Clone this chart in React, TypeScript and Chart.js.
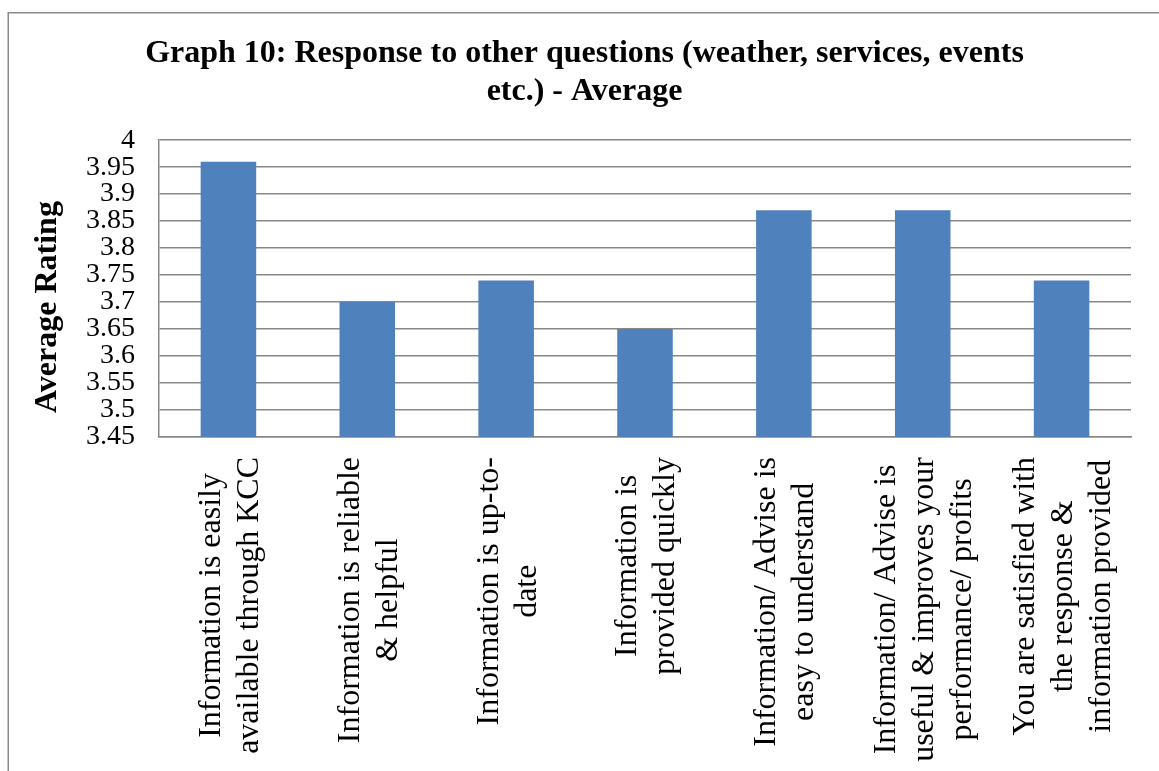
import React, { useEffect, useRef } from "react";
import { Chart, registerables } from "chart.js";

Chart.register(...registerables);

const titleLines = [
  "Graph 10: Response to other questions (weather, services, events",
  "etc.) - Average",
];
const yAxisTitle = "Average Rating";
const categories: string[][] = [
  ["Information is easily", "available through KCC"],
  ["Information is reliable", "& helpful"],
  ["Information is up-to-", "date"],
  ["Information is", "provided quickly"],
  ["Information/ Advise is", "easy to understand"],
  ["Information/ Advise is", "useful & improves your", "performance/ profits"],
  ["You are satisfied with", "the response &", "information provided"],
];
const averageRatings = [3.96, 3.7, 3.74, 3.65, 3.87, 3.87, 3.74];
const yMin = 3.45;
const yMax = 4;
const yStep = 0.05;

const SERIF = '"Liberation Serif", "Times New Roman", serif';
const GRID = "#878787";
const BAR = "#4F81BD";

const framePlugin = {
  id: "frame",
  beforeDraw(chart: any) {
    const { ctx, width, height } = chart;
    ctx.save();
    ctx.fillStyle = "#ffffff";
    ctx.fillRect(0, 0, width, height);
    ctx.strokeStyle = "#8a8a8a";
    ctx.lineWidth = 1.5;
    ctx.strokeRect(8.25, 12.75, width + 20, height + 20);
    ctx.restore();
  },
};

const labelsPlugin = {
  id: "rotatedLabels",
  afterDraw(chart: any) {
    const { ctx, chartArea } = chart;
    const xScale = chart.scales.x;
    const fontSize = 32;
    const lineH = 38;
    ctx.save();
    ctx.fillStyle = "#000000";
    ctx.font = `${fontSize}px ${SERIF}`;
    ctx.textAlign = "center";
    ctx.textBaseline = "middle";
    categories.forEach((lines, i) => {
      const cx = xScale.getPixelForValue(i) + 2;
      const top = chartArea.bottom + 20;
      const maxW = Math.max(...lines.map((l) => ctx.measureText(l).width));
      ctx.save();
      ctx.translate(cx, top);
      ctx.rotate(-Math.PI / 2);
      lines.forEach((l, j) => {
        const y = (j - (lines.length - 1) / 2) * lineH;
        ctx.fillText(l, -maxW / 2, y);
      });
      ctx.restore();
    });
    // y axis title
    ctx.font = `bold 32px ${SERIF}`;
    ctx.save();
    ctx.translate(48, 307);
    ctx.rotate(-Math.PI / 2);
    ctx.fillText(yAxisTitle, 0, 0);
    ctx.restore();
    ctx.restore();
  },
};

export default function App() {
  const ref = useRef<HTMLCanvasElement | null>(null);
  useEffect(() => {
    if (!ref.current) return;
    const chart = new Chart(ref.current, {
      type: "bar",
      data: {
        labels: categories.map((c) => c.join(" ")),
        datasets: [
          {
            data: averageRatings,
            backgroundColor: BAR,
            borderWidth: 0,
            barPercentage: 0.4,
            categoryPercentage: 1,
          },
        ],
      },
      options: {
        animation: false,
        responsive: false,
        devicePixelRatio: 1,
        layout: { padding: { left: 38, right: 28, top: 0, bottom: 0 } },
        plugins: {
          legend: { display: false },
          tooltip: { enabled: false },
          title: {
            display: true,
            text: titleLines,
            color: "#000000",
            font: { family: SERIF, size: 32, weight: "bold", lineHeight: 1.19 },
            padding: { top: 35, bottom: 29 },
          },
        },
        scales: {
          x: {
            type: "category",
            grid: { display: false },
            border: { display: true, color: GRID, width: 1.5 },
            ticks: { display: false },
            afterFit: (scale: any) => {
              scale.height = 334;
            },
          },
          y: {
            min: yMin,
            max: yMax,
            grid: { color: GRID, lineWidth: 1.5, drawTicks: false },
            border: { display: true, color: GRID, width: 1.5 },
            ticks: {
              stepSize: yStep,
              autoSkip: false,
              maxTicksLimit: 30,
              padding: 24,
              color: "#000000",
              font: { family: SERIF, size: 28, lineHeight: 0.9 },
              callback: (v: any) => String(Number(Number(v).toFixed(2))),
            },
            afterFit: (scale: any) => {
              scale.width = 121;
            },
          },
        },
      },
      plugins: [framePlugin, labelsPlugin],
    });
    return () => chart.destroy();
  }, []);
  return (
    <div style={{ position: "fixed", left: 0, top: 0, width: 1159, height: 771, background: "#fff" }}>
      <canvas ref={ref} width={1159} height={771} style={{ display: "block" }} />
    </div>
  );
}
